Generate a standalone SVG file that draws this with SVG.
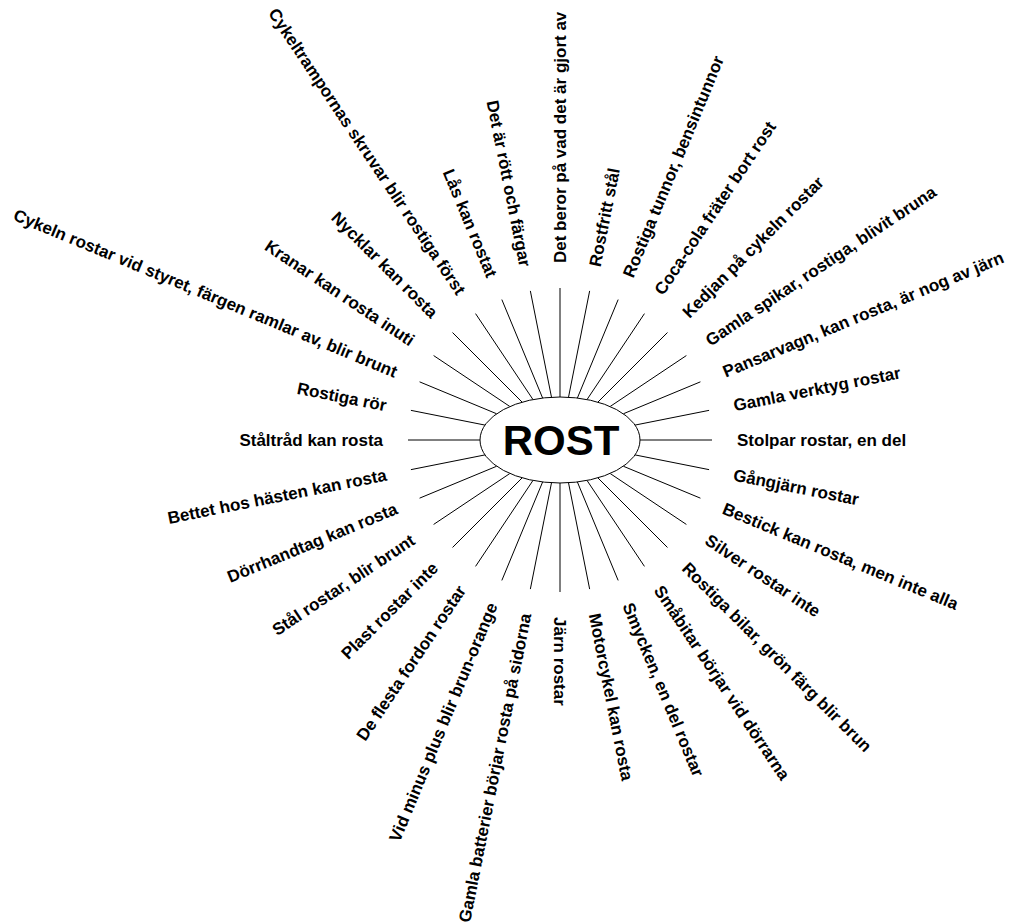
<svg xmlns="http://www.w3.org/2000/svg" width="1012" height="923" viewBox="0 0 1012 923">
<style>
.bg{fill:#fff}
.spoke{stroke:#000;stroke-width:1;fill:none}
.hub{fill:#fff;stroke:#000;stroke-width:1}
.hubtxt{font-family:"Liberation Sans",Arial,sans-serif;font-weight:bold;font-size:42px;fill:#000;text-anchor:middle}
.lbl{font-family:"Liberation Sans",Arial,sans-serif;font-weight:bold;font-size:17px;fill:#000}
.r{text-anchor:start}
.l{text-anchor:end}
</style>
<rect class="bg" x="0" y="0" width="1012" height="923"/>
<g id="connectors">
<line class="spoke" x1="640" y1="440" x2="712" y2="440"/>
<line class="spoke" x1="635.03" y1="454.92" x2="709.08" y2="469.65"/>
<line class="spoke" x1="623.37" y1="466.25" x2="700.43" y2="498.17"/>
<line class="spoke" x1="610.15" y1="473.51" x2="686.38" y2="524.45"/>
<line class="spoke" x1="597.87" y1="477.87" x2="667.48" y2="547.48"/>
<line class="spoke" x1="587.04" y1="480.47" x2="644.45" y2="566.38"/>
<line class="spoke" x1="577.39" y1="481.97" x2="618.17" y2="580.43"/>
<line class="spoke" x1="568.50" y1="482.75" x2="589.65" y2="589.08"/>
<line class="spoke" x1="560" y1="483" x2="560" y2="592"/>
<line class="spoke" x1="551.50" y1="482.75" x2="530.35" y2="589.08"/>
<line class="spoke" x1="542.61" y1="481.97" x2="501.83" y2="580.43"/>
<line class="spoke" x1="532.96" y1="480.47" x2="475.55" y2="566.38"/>
<line class="spoke" x1="522.13" y1="477.87" x2="452.52" y2="547.48"/>
<line class="spoke" x1="509.85" y1="473.51" x2="433.62" y2="524.45"/>
<line class="spoke" x1="496.63" y1="466.25" x2="419.57" y2="498.17"/>
<line class="spoke" x1="484.97" y1="454.92" x2="410.92" y2="469.65"/>
<line class="spoke" x1="480" y1="440" x2="408" y2="440"/>
<line class="spoke" x1="484.97" y1="425.08" x2="410.92" y2="410.35"/>
<line class="spoke" x1="496.63" y1="413.75" x2="419.57" y2="381.83"/>
<line class="spoke" x1="509.85" y1="406.49" x2="433.62" y2="355.55"/>
<line class="spoke" x1="522.13" y1="402.13" x2="452.52" y2="332.52"/>
<line class="spoke" x1="532.96" y1="399.53" x2="475.55" y2="313.62"/>
<line class="spoke" x1="542.61" y1="398.03" x2="501.83" y2="299.57"/>
<line class="spoke" x1="551.50" y1="397.25" x2="530.35" y2="290.92"/>
<line class="spoke" x1="560" y1="397" x2="560" y2="288"/>
<line class="spoke" x1="568.50" y1="397.25" x2="589.65" y2="290.92"/>
<line class="spoke" x1="577.39" y1="398.03" x2="618.17" y2="299.57"/>
<line class="spoke" x1="587.04" y1="399.53" x2="644.45" y2="313.62"/>
<line class="spoke" x1="597.87" y1="402.13" x2="667.48" y2="332.52"/>
<line class="spoke" x1="610.15" y1="406.49" x2="686.38" y2="355.55"/>
<line class="spoke" x1="623.37" y1="413.75" x2="700.43" y2="381.83"/>
<line class="spoke" x1="635.03" y1="425.08" x2="709.08" y2="410.35"/>
</g>
<g id="rost">
<ellipse class="hub" cx="560" cy="440" rx="80" ry="43"/>
<text class="hubtxt" x="561" y="455">ROST</text>
</g>
<g id="n00" transform="translate(560,263) rotate(-90)"><text class="lbl r" y="6">Det beror på vad det är gjort av</text></g>
<g id="n01" transform="translate(594.53,266.40) rotate(-78.75)"><text class="lbl r" y="6">Rostfritt stål</text></g>
<g id="n02" transform="translate(627.73,276.47) rotate(-67.5)"><text class="lbl r" y="6">Rostiga tunnor, bensintunnor</text></g>
<g id="n03" transform="translate(658.34,292.83) rotate(-56.25)"><text class="lbl r" y="6">Coca-cola fräter bort rost</text></g>
<g id="n04" transform="translate(685.16,314.84) rotate(-45)"><text class="lbl r" y="6">Kedjan på cykeln rostar</text></g>
<g id="n05" transform="translate(707.17,341.66) rotate(-33.75)"><text class="lbl r" y="6">Gamla spikar, rostiga, blivit bruna</text></g>
<g id="n06" transform="translate(723.53,372.27) rotate(-22.5)"><text class="lbl r" y="6">Pansarvagn, kan rosta, är nog av järn</text></g>
<g id="n07" transform="translate(733.60,405.47) rotate(-11.25)"><text class="lbl r" y="6">Gamla verktyg rostar</text></g>
<g id="n08" transform="translate(737,440)"><text class="lbl r" y="6">Stolpar rostar, en del</text></g>
<g id="n09" transform="translate(733.60,474.53) rotate(11.25)"><text class="lbl r" y="6">Gångjärn rostar</text></g>
<g id="n10" transform="translate(723.53,507.73) rotate(22.5)"><text class="lbl r" y="6">Bestick kan rosta, men inte alla</text></g>
<g id="n11" transform="translate(707.17,538.34) rotate(33.75)"><text class="lbl r" y="6">Silver rostar inte</text></g>
<g id="n12" transform="translate(685.16,565.16) rotate(45)"><text class="lbl r" y="6">Rostiga bilar, grön färg blir brun</text></g>
<g id="n13" transform="translate(658.34,587.17) rotate(56.25)"><text class="lbl r" y="6">Småbitar börjar vid dörrarna</text></g>
<g id="n14" transform="translate(627.73,603.53) rotate(67.5)"><text class="lbl r" y="6">Smycken, en del rostar</text></g>
<g id="n15" transform="translate(594.53,613.60) rotate(78.75)"><text class="lbl r" y="6">Motorcykel kan rosta</text></g>
<g id="n16" transform="translate(560,617) rotate(90)"><text class="lbl r" y="6">Järn rostar</text></g>
<g id="n17" transform="translate(525.47,613.60) rotate(-78.75)"><text class="lbl l" y="6">Gamla batterier börjar rosta på sidorna</text></g>
<g id="n18" transform="translate(492.27,603.53) rotate(-67.5)"><text class="lbl l" y="6">Vid minus plus blir brun-orange</text></g>
<g id="n19" transform="translate(461.66,587.17) rotate(-56.25)"><text class="lbl l" y="6">De flesta fordon rostar</text></g>
<g id="n20" transform="translate(434.84,565.16) rotate(-45)"><text class="lbl l" y="6">Plast rostar inte</text></g>
<g id="n21" transform="translate(412.83,538.34) rotate(-33.75)"><text class="lbl l" y="6">Stål rostar, blir brunt</text></g>
<g id="n22" transform="translate(396.47,507.73) rotate(-22.5)"><text class="lbl l" y="6">Dörrhandtag kan rosta</text></g>
<g id="n23" transform="translate(386.40,474.53) rotate(-11.25)"><text class="lbl l" y="6">Bettet hos hästen kan rosta</text></g>
<g id="n24" transform="translate(383,440)"><text class="lbl l" y="6">Ståltråd kan rosta</text></g>
<g id="n25" transform="translate(386.40,405.47) rotate(11.25)"><text class="lbl l" y="6">Rostiga rör</text></g>
<g id="n26" transform="translate(396.47,372.27) rotate(22.5)"><text class="lbl l" y="6">Cykeln rostar vid styret, färgen ramlar av, blir brunt</text></g>
<g id="n27" transform="translate(412.83,341.66) rotate(33.75)"><text class="lbl l" y="6">Kranar kan rosta inuti</text></g>
<g id="n28" transform="translate(434.84,314.84) rotate(45)"><text class="lbl l" y="6">Nycklar kan rosta</text></g>
<g id="n29" transform="translate(461.66,292.83) rotate(56.25)"><text class="lbl l" y="6">Cykeltrampornas skruvar blir rostiga först</text></g>
<g id="n30" transform="translate(492.27,276.47) rotate(67.5)"><text class="lbl l" y="6">Lås kan rostat</text></g>
<g id="n31" transform="translate(525.47,266.40) rotate(78.75)"><text class="lbl l" y="6">Det är rött och färgar</text></g>
</svg>
